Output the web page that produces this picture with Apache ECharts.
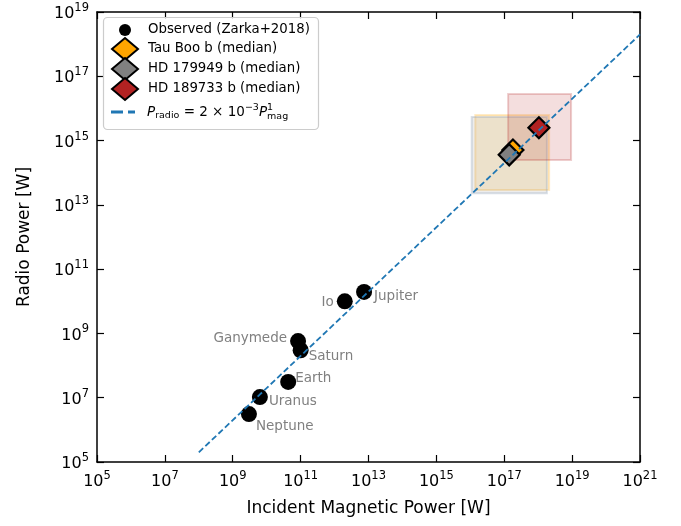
<!DOCTYPE html>
<html><head><meta charset="utf-8">
<script src="https://cdn.jsdelivr.net/npm/echarts@6/dist/echarts.min.js"></script>
<style>html,body{margin:0;padding:0;background:#fff}#c{width:681px;height:526px}</style>
</head><body><div id="c"></div>
<script>
// ---- data ----
const observedNames = ['Jupiter', 'Io', 'Ganymede', 'Saturn', 'Earth', 'Uranus', 'Neptune'];
const observedPmag = [7.4e12, 2.0e12, 8.4e10, 1.0e11, 4.3e10, 6.3e9, 3.0e9];
const observedPradio = [1.95e10, 1.0e10, 5.8e8, 3.0e8, 3.1e7, 1.05e7, 3.1e6];

const exoNames = ['Tau Boo b (median)', 'HD 179949 b (median)', 'HD 189733 b (median)'];
const exoPmag = [1.8e17, 1.4e17, 1.05e18];
const exoPradio = [5.1e14, 3.6e14, 2.5e15];
const exoPmagLo = [1.4e16, 1.1e16, 1.3e17];
const exoPmagHi = [2.1e18, 1.8e18, 9.3e18];
const exoPradioLo = [2.9e13, 2.3e13, 2.5e14];
const exoPradioHi = [6.3e15, 5.4e15, 2.8e16];

const fitPmag = [1e8, 1e21];
const fitPradio = [2e5, 2e18];

const xTickMin = 1e5, xTickMax = 1e21;
const yTickMin = 1e5, yTickMax = 1e19;

// ---- styles ----
const exoColors = ['#ffa500', '#808080', '#b22222'];
const boxFill = ['rgba(255,165,0,0.15)', 'rgba(128,128,128,0.15)', 'rgba(178,34,34,0.15)'];
const boxStroke = ['rgba(255,165,0,0.22)', 'rgba(150,165,185,0.35)', 'rgba(178,34,34,0.22)'];
const labelCfg = {
  Jupiter: {position: 'right', offset: [-3, 5]},
  Io: {position: 'left', offset: [2, 1]},
  Ganymede: {position: 'left', offset: [2, -3]},
  Saturn: {position: 'right', offset: [-5, 6]},
  Earth: {position: 'right', offset: [-6, -3]},
  Uranus: {position: 'right', offset: [-4, 4]},
  Neptune: {position: 'right', offset: [-6, 12]}
};

const FONT = 'DejaVu Sans';
function expLabel(v) {
  const e = Math.round(Math.log10(v));
  return '{b|10}{s|' + e + '}';
}
const tickRich = {
  b: {fontSize: 16, fontFamily: FONT, color: '#000', verticalAlign: 'bottom', lineHeight: 20},
  s: {fontSize: 11.5, fontFamily: FONT, color: '#000', verticalAlign: 'top', lineHeight: 20, padding: [0, 0, 8, 0]}
};

const chart = echarts.init(document.getElementById('c'), null, {renderer: 'canvas'});

const axisCommon = {
  type: 'log', logBase: 10,
  axisLine: {show: true, onZero: false, lineStyle: {color: '#000', width: 1.5}},
  axisTick: {show: true, inside: true, length: 7, lineStyle: {color: '#000', width: 1.2}},
  minorTick: {show: false},
  splitLine: {show: false}
};

const boxData = exoNames.map((n, i) => [exoPmagLo[i], exoPmagHi[i], exoPradioLo[i], exoPradioHi[i], i]);

const series = [
  {
    type: 'custom', name: 'boxes', silent: true, z: 1,
    encode: {x: [0, 1], y: [2, 3]},
    data: boxData,
    renderItem: function (params, api) {
      const a = api.coord([api.value(0), api.value(2)]);
      const b = api.coord([api.value(1), api.value(3)]);
      const i = api.value(4);
      return {
        type: 'rect',
        shape: {x: Math.min(a[0], b[0]), y: Math.min(a[1], b[1]), width: Math.abs(b[0] - a[0]), height: Math.abs(b[1] - a[1])},
        style: {fill: boxFill[i], stroke: boxStroke[i], lineWidth: 2}
      };
    }
  },
  {
    type: 'scatter', name: 'Observed (Zarka+2018)', z: 3,
    symbol: 'circle', symbolSize: 16,
    itemStyle: {color: '#000', opacity: 1},
    data: observedNames.map((n, i) => ({
      name: n, value: [observedPmag[i], observedPradio[i]],
      label: {show: true, formatter: n, position: labelCfg[n].position, offset: labelCfg[n].offset,
        color: '#808080', fontSize: 13.5, fontFamily: FONT}
    }))
  }
];
exoNames.forEach((n, i) => {
  series.push({
    type: 'scatter', name: n, z: 4,
    symbol: 'diamond', symbolSize: [21, 21],
    itemStyle: {color: exoColors[i], borderColor: '#000', borderWidth: 2.2, opacity: 1},
    data: [[exoPmag[i], exoPradio[i]]]
  });
});
series.push({
  type: 'line', name: 'fit', z: 5,
  symbol: 'none', smooth: false, color: '#1f77b4',
  lineStyle: {color: '#1f77b4', width: 1.8, type: [6, 3]},
  data: fitPmag.map((x, i) => [x, fitPradio[i]])
});

const legendCommon = {
  orient: 'vertical', left: 103, z: 10,
  itemGap: -4, itemWidth: 26, itemHeight: 22,
  backgroundColor: 'transparent', borderWidth: 0
};

chart.setOption({
  animation: false,
  backgroundColor: '#fff',
  grid: {left: 97, right: 41, top: 12, bottom: 64, containLabel: false, outerBoundsMode: 'none'},
  graphic: [{
    type: 'rect', z: 8, silent: true,
    shape: {x: 103.5, y: 17.5, width: 215, height: 112, r: 4},
    style: {fill: 'rgba(255,255,255,0.85)', stroke: '#cccccc', lineWidth: 1.2}
  }],
  legend: [
    Object.assign({}, legendCommon, {
      top: 17, padding: [2, 8, 0, 8],
      data: [
        {name: 'Observed (Zarka+2018)', icon: 'path://M0,0M22,22M5,11a6,6 0 1,0 12,0a6,6 0 1,0 -12,0', itemStyle: {color: '#000', borderWidth: 0}},
        exoNames[0], exoNames[1], exoNames[2]
      ],
      textStyle: {fontSize: 13.3, fontFamily: FONT, color: '#000', padding: [0, 0, 0, 5]}
    }),
    Object.assign({}, legendCommon, {
      top: 101, padding: [0, 8, 0, 8],
      data: [
        {name: 'fit', icon: 'path://M0,0M26,22M0,9.5h12v3h-12zM17,9.5h7v3h-7z', itemStyle: {color: '#1f77b4', borderWidth: 0}}
      ],
      textStyle: {fontSize: 13.3, fontFamily: FONT, color: '#000', padding: [0, 0, 0, 5],
        rich: {
          i: {fontSize: 13.5, fontFamily: FONT, fontStyle: 'italic', lineHeight: 22, verticalAlign: 'middle'},
          n: {fontSize: 13.5, fontFamily: FONT, lineHeight: 22, verticalAlign: 'middle'},
          sub: {fontSize: 9.5, fontFamily: FONT, lineHeight: 12, verticalAlign: 'middle', padding: [8, 0, 0, 0]},
          sup: {fontSize: 9.5, fontFamily: FONT, lineHeight: 12, verticalAlign: 'middle', padding: [0, 0, 9, 0]},
          mag: {fontSize: 9.5, fontFamily: FONT, lineHeight: 12, verticalAlign: 'middle', padding: [9, 0, 0, -6]}
        }},
      formatter: function () {
        return '{i|P}{sub|radio}{n| = 2 × 10}{sup|−3}{i|P}{sup|1}{mag|mag}';
      }
    })
  ],
  xAxis: [
    Object.assign({}, axisCommon, {
      position: 'bottom', min: xTickMin, max: xTickMax, interval: 2,
      name: 'Incident Magnetic Power [W]', nameLocation: 'middle', nameGap: 38,
      nameTextStyle: {fontSize: 17, fontFamily: FONT, color: '#000'},
      axisLabel: {show: true, margin: 8, formatter: expLabel, rich: tickRich}
    }),
    Object.assign({}, axisCommon, {
      position: 'top', min: xTickMin, max: xTickMax, interval: 2,
      axisLabel: {show: false}
    })
  ],
  yAxis: [
    Object.assign({}, axisCommon, {
      position: 'left', min: yTickMin, max: yTickMax, interval: 2,
      name: 'Radio Power [W]', nameLocation: 'middle', nameGap: 64, nameRotate: 90,
      nameTextStyle: {fontSize: 17, fontFamily: FONT, color: '#000'},
      axisLabel: {show: true, margin: 8, formatter: expLabel, rich: tickRich}
    }),
    Object.assign({}, axisCommon, {
      position: 'right', min: yTickMin, max: yTickMax, interval: 2,
      axisLabel: {show: false}
    })
  ],
  series: series
});
</script>
</body></html>
